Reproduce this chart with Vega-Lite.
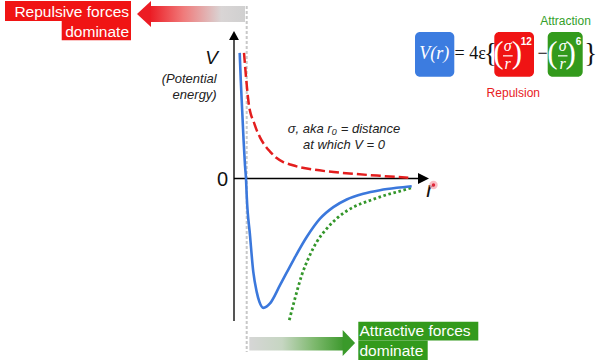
{
  "$schema": "https://vega.github.io/schema/vega-lite/v6.json",
  "width": 601,
  "height": 361,
  "autosize": {"type": "fit", "contains": "padding"},
  "padding": 0,
  "background": "white",
  "config": {"view": {"stroke": null}},
  "encoding": {
    "x": {"field": "r", "type": "quantitative", "scale": {"domain": [-23.4, 36.7], "nice": false, "zero": false}, "axis": null},
    "y": {"field": "V", "type": "quantitative", "scale": {"domain": [-18.3, 17.8], "nice": false, "zero": false}, "axis": null}
  },
  "layer": [
    {
      "data": {"values": [{"r": 1.27, "V": 17.3, "V2": -17.4}]},
      "mark": {"type": "rule", "color": "#c8c8c8", "strokeWidth": 2, "strokeDash": [3, 2]},
      "encoding": {"y2": {"field": "V2"}}
    },
    {
      "data": {"values": [{"r": -8.4, "r2": 1.1, "V": 17.3, "V2": 15.7}]},
      "mark": {"type": "rect", "fill": {"gradient": "linear", "x1": 0, "y1": 0, "x2": 1, "y2": 0, "stops": [{"offset": 0, "color": "#ec1c24"}, {"offset": 0.35, "color": "#f07a7a"}, {"offset": 0.75, "color": "#d9d5d5"}, {"offset": 1, "color": "#d0d0d0"}]}},
      "encoding": {"x2": {"field": "r2"}, "y2": {"field": "V2"}}
    },
    {
      "data": {"values": [{"r": -9.0, "V": 16.5}]},
      "mark": {"type": "point", "shape": "M-1,0 L1,-1.86 L1,1.86 Z", "size": 196, "filled": true, "color": "#ec1c24", "opacity": 1, "strokeWidth": 0},
      "encoding": {}
    },
    {
      "data": {"values": [{"r": 1.53, "r2": 10.9, "V": -15.9, "V2": -17.25}]},
      "mark": {"type": "rect", "fill": {"gradient": "linear", "x1": 0, "y1": 0, "x2": 1, "y2": 0, "stops": [{"offset": 0, "color": "#d6d6d6"}, {"offset": 0.35, "color": "#c6d6c2"}, {"offset": 0.7, "color": "#7cb86c"}, {"offset": 1, "color": "#3f9a2f"}]}},
      "encoding": {"x2": {"field": "r2"}, "y2": {"field": "V2"}}
    },
    {
      "data": {"values": [{"r": 11.49, "V": -16.5}]},
      "mark": {"type": "point", "shape": "M1,0 L-1,-2.1 L-1,2.1 Z", "size": 154, "filled": true, "color": "#3a9a2a", "opacity": 1, "strokeWidth": 0},
      "encoding": {}
    },
    {
      "data": {"values": [{"r": 0, "V": -14.3, "V2": 13.9}]},
      "mark": {"type": "rule", "color": "#555555", "strokeWidth": 2},
      "encoding": {"y2": {"field": "V2"}}
    },
    {
      "data": {"values": [{"r": 0, "V": 14.35}]},
      "mark": {"type": "point", "shape": "M0,-1 L1.1,1 L-1.1,1 Z", "size": 81, "filled": true, "color": "#000000", "opacity": 1, "strokeWidth": 0},
      "encoding": {}
    },
    {
      "data": {"values": [{"r": 0, "r2": 18.4, "V": 0}]},
      "mark": {"type": "rule", "color": "#000000", "strokeWidth": 1.5},
      "encoding": {"x2": {"field": "r2"}}
    },
    {
      "data": {"values": [{"r": 18.95, "V": 0}]},
      "mark": {"type": "point", "shape": "M1,0 L-1,-1 L-1,1 Z", "size": 121, "filled": true, "color": "#000000", "opacity": 1, "strokeWidth": 0},
      "encoding": {}
    },
    {
      "data": {"values": [
        {"r": 1.0, "V": 12.6}, {"r": 1.1, "V": 11.4}, {"r": 1.2, "V": 10.2}, {"r": 1.3, "V": 9.1},
        {"r": 1.4, "V": 8.1}, {"r": 1.52, "V": 7.2}, {"r": 1.68, "V": 6.45}, {"r": 1.93, "V": 5.8},
        {"r": 2.25, "V": 4.9}, {"r": 2.6, "V": 4.13}, {"r": 3.1, "V": 3.3}, {"r": 3.6, "V": 2.7},
        {"r": 4.2, "V": 2.1}, {"r": 4.93, "V": 1.65}, {"r": 5.8, "V": 1.35}, {"r": 6.6, "V": 1.13},
        {"r": 7.9, "V": 0.9}, {"r": 9.27, "V": 0.72}, {"r": 11.93, "V": 0.47}, {"r": 14.6, "V": 0.27},
        {"r": 17.43, "V": 0.08}
      ]},
      "mark": {"type": "line", "color": "#e31e1e", "strokeWidth": 2.5, "strokeDash": [10, 4], "interpolate": "monotone"},
      "encoding": {}
    },
    {
      "data": {"values": [
        {"r": 5.53, "V": -14.2}, {"r": 6.1, "V": -12.03}, {"r": 6.77, "V": -9.7}, {"r": 7.43, "V": -8.03},
        {"r": 8.27, "V": -6.37}, {"r": 9.27, "V": -5.03}, {"r": 10.43, "V": -3.87}, {"r": 11.93, "V": -2.87},
        {"r": 13.6, "V": -2.2}, {"r": 15.27, "V": -1.63}, {"r": 16.6, "V": -1.27}, {"r": 17.77, "V": -0.93}
      ]},
      "mark": {"type": "line", "color": "#33962a", "strokeWidth": 2.8, "strokeDash": [2.6, 2.6], "interpolate": "monotone"},
      "encoding": {}
    },
    {
      "data": {"values": [
        {"r": 0.57, "V": 12.6}, {"r": 0.68, "V": 9.8}, {"r": 0.82, "V": 6.8}, {"r": 0.96, "V": 3.8},
        {"r": 1.1, "V": 1.3}, {"r": 1.2, "V": 0}, {"r": 1.27, "V": -1.7}, {"r": 1.6, "V": -5.7},
        {"r": 1.93, "V": -9.37}, {"r": 2.27, "V": -11.37}, {"r": 2.55, "V": -12.4}, {"r": 2.93, "V": -12.97},
        {"r": 3.25, "V": -12.85}, {"r": 3.6, "V": -12.53}, {"r": 4.6, "V": -10.7}, {"r": 5.93, "V": -8.2},
        {"r": 7.27, "V": -5.87}, {"r": 8.6, "V": -4.03}, {"r": 9.93, "V": -2.87}, {"r": 11.27, "V": -2.1},
        {"r": 12.93, "V": -1.53}, {"r": 14.6, "V": -1.17}, {"r": 16.27, "V": -0.93}, {"r": 17.77, "V": -0.77}
      ]},
      "mark": {"type": "line", "color": "#3b78dc", "strokeWidth": 2.6, "interpolate": "monotone"},
      "encoding": {}
    },
    {
      "data": {"values": [{"r": -1.15, "V": -0.1, "label": "0"}]},
      "mark": {"type": "text", "font": "Liberation Sans", "fontSize": 20, "color": "#111111", "align": "center", "baseline": "middle"},
      "encoding": {"text": {"field": "label"}}
    },
    {
      "data": {"values": [{"r": -2.23, "V": 12.1, "label": "V"}]},
      "mark": {"type": "text", "font": "Liberation Sans", "fontSize": 19, "fontStyle": "italic", "color": "#111111", "align": "center", "baseline": "middle"},
      "encoding": {"text": {"field": "label"}}
    },
    {
      "data": {"values": [{"r": -1.73, "V": 10.0, "label": "(Potential"}, {"r": -1.73, "V": 8.4, "label": "energy)"}]},
      "mark": {"type": "text", "font": "Liberation Sans", "fontSize": 13, "fontStyle": "italic", "color": "#222222", "align": "right", "baseline": "middle"},
      "encoding": {"text": {"field": "label"}}
    },
    {
      "data": {"values": [{"r": 11.0, "V": 4.97, "label": "σ, aka r₀ = distance"}, {"r": 11.0, "V": 3.4, "label": "at which V = 0"}]},
      "mark": {"type": "text", "font": "Liberation Sans", "fontSize": 13, "fontStyle": "italic", "color": "#222222", "align": "center", "baseline": "middle"},
      "encoding": {"text": {"field": "label"}}
    },
    {
      "data": {"values": [{"r": 19.6, "V": -1.2, "label": "r"}]},
      "mark": {"type": "text", "font": "Liberation Sans", "fontSize": 22, "fontStyle": "italic", "color": "#111111", "align": "center", "baseline": "middle"},
      "encoding": {"text": {"field": "label"}}
    },
    {
      "data": {"values": [{"r": 19.95, "V": -0.65}]},
      "mark": {"type": "point", "shape": "circle", "size": 70, "filled": true, "color": "#f7a8b0", "opacity": 0.75, "strokeWidth": 0},
      "encoding": {}
    },
    {
      "data": {"values": [{"r": 19.95, "V": -0.65}]},
      "mark": {"type": "point", "shape": "circle", "size": 12, "filled": true, "color": "#e0283a", "opacity": 1, "strokeWidth": 0},
      "encoding": {}
    },
    {
      "data": {"values": [{"r": -22.9, "r2": -10.3, "V": 17.8, "V2": 15.8}, {"r": -17.23, "r2": -10.3, "V": 15.8, "V2": 13.87}]},
      "mark": {"type": "rect", "color": "#f01414"},
      "encoding": {"x2": {"field": "r2"}, "y2": {"field": "V2"}}
    },
    {
      "data": {"values": [{"r": -10.5, "V": 16.2, "label": "Repulsive forces"}, {"r": -10.5, "V": 14.2, "label": "dominate"}]},
      "mark": {"type": "text", "font": "Liberation Sans", "fontSize": 15.5, "color": "#ffffff", "align": "right", "baseline": "alphabetic"},
      "encoding": {"text": {"field": "label"}}
    },
    {
      "data": {"values": [{"r": 12.43, "r2": 24.43, "V": -14.37, "V2": -16.25}, {"r": 12.43, "r2": 19.37, "V": -16.25, "V2": -18.2}]},
      "mark": {"type": "rect", "color": "#339a1c"},
      "encoding": {"x2": {"field": "r2"}, "y2": {"field": "V2"}}
    },
    {
      "data": {"values": [{"r": 12.55, "V": -15.8, "label": "Attractive forces"}, {"r": 12.55, "V": -17.8, "label": "dominate"}]},
      "mark": {"type": "text", "font": "Liberation Sans", "fontSize": 15.5, "color": "#ffffff", "align": "left", "baseline": "alphabetic"},
      "encoding": {"text": {"field": "label"}}
    },
    {
      "data": {"values": [{"r": 18.1, "r2": 22.03, "V": 14.7, "V2": 10.2}]},
      "mark": {"type": "rect", "color": "#3c7ce0", "cornerRadius": 5},
      "encoding": {"x2": {"field": "r2"}, "y2": {"field": "V2"}}
    },
    {
      "data": {"values": [{"r": 26.03, "r2": 30.0, "V": 14.7, "V2": 10.2}]},
      "mark": {"type": "rect", "color": "#f01414", "cornerRadius": 5},
      "encoding": {"x2": {"field": "r2"}, "y2": {"field": "V2"}}
    },
    {
      "data": {"values": [{"r": 31.37, "r2": 34.87, "V": 14.7, "V2": 10.2}]},
      "mark": {"type": "rect", "color": "#339a1c", "cornerRadius": 5},
      "encoding": {"x2": {"field": "r2"}, "y2": {"field": "V2"}}
    },
    {
      "data": {"values": [{"r": 20.02, "V": 12.45, "label": "V(r)"}]},
      "mark": {"type": "text", "font": "Liberation Serif", "fontSize": 18, "fontStyle": "italic", "color": "#ffffff", "align": "center", "baseline": "middle"},
      "encoding": {"text": {"field": "label"}}
    },
    {
      "data": {"values": [{"r": 22.05, "V": 12.47, "label": "= 4ε"}]},
      "mark": {"type": "text", "font": "Liberation Serif", "fontSize": 18, "color": "#111111", "align": "left", "baseline": "middle"},
      "encoding": {"text": {"field": "label"}}
    },
    {
      "data": {"values": [{"r": 25.62, "V": 12.5, "label": "{"}, {"r": 35.68, "V": 12.5, "label": "}"}]},
      "mark": {"type": "text", "font": "Liberation Serif", "fontSize": 27, "color": "#111111", "align": "center", "baseline": "middle"},
      "encoding": {"text": {"field": "label"}}
    },
    {
      "data": {"values": [{"r": 30.85, "V": 12.47, "label": "−"}]},
      "mark": {"type": "text", "font": "Liberation Serif", "fontSize": 18, "color": "#111111", "align": "center", "baseline": "middle"},
      "encoding": {"text": {"field": "label"}}
    },
    {
      "data": {"values": [{"r": 26.45, "V": 12.5, "label": "("}, {"r": 28.28, "V": 12.5, "label": ")"}, {"r": 31.85, "V": 12.5, "label": "("}, {"r": 33.67, "V": 12.5, "label": ")"}]},
      "mark": {"type": "text", "font": "Liberation Serif", "fontSize": 31, "color": "#ffffff", "align": "center", "baseline": "middle"},
      "encoding": {"text": {"field": "label"}}
    },
    {
      "data": {"values": [{"r": 27.37, "V": 13.33, "label": "σ"}, {"r": 27.37, "V": 11.45, "label": "r"}, {"r": 32.87, "V": 13.33, "label": "σ"}, {"r": 32.87, "V": 11.45, "label": "r"}]},
      "mark": {"type": "text", "font": "Liberation Serif", "fontSize": 16, "fontStyle": "italic", "color": "#ffffff", "align": "center", "baseline": "middle"},
      "encoding": {"text": {"field": "label"}}
    },
    {
      "data": {"values": [{"r": 26.9, "r2": 27.87, "V": 12.3}, {"r": 32.4, "r2": 33.35, "V": 12.3}]},
      "mark": {"type": "rule", "color": "#ffffff", "strokeWidth": 1.2},
      "encoding": {"x2": {"field": "r2"}}
    },
    {
      "data": {"values": [{"r": 29.22, "V": 13.7, "label": "12"}, {"r": 34.45, "V": 13.7, "label": "6"}]},
      "mark": {"type": "text", "font": "Liberation Sans", "fontSize": 10, "fontWeight": "bold", "color": "#ffffff", "align": "center", "baseline": "middle"},
      "encoding": {"text": {"field": "label"}}
    },
    {
      "data": {"values": [{"r": 33.15, "V": 15.8, "label": "Attraction"}]},
      "mark": {"type": "text", "font": "Liberation Sans", "fontSize": 12, "color": "#34a02a", "align": "center", "baseline": "middle"},
      "encoding": {"text": {"field": "label"}}
    },
    {
      "data": {"values": [{"r": 27.93, "V": 8.57, "label": "Repulsion"}]},
      "mark": {"type": "text", "font": "Liberation Sans", "fontSize": 12, "color": "#e8201e", "align": "center", "baseline": "middle"},
      "encoding": {"text": {"field": "label"}}
    }
  ]
}
